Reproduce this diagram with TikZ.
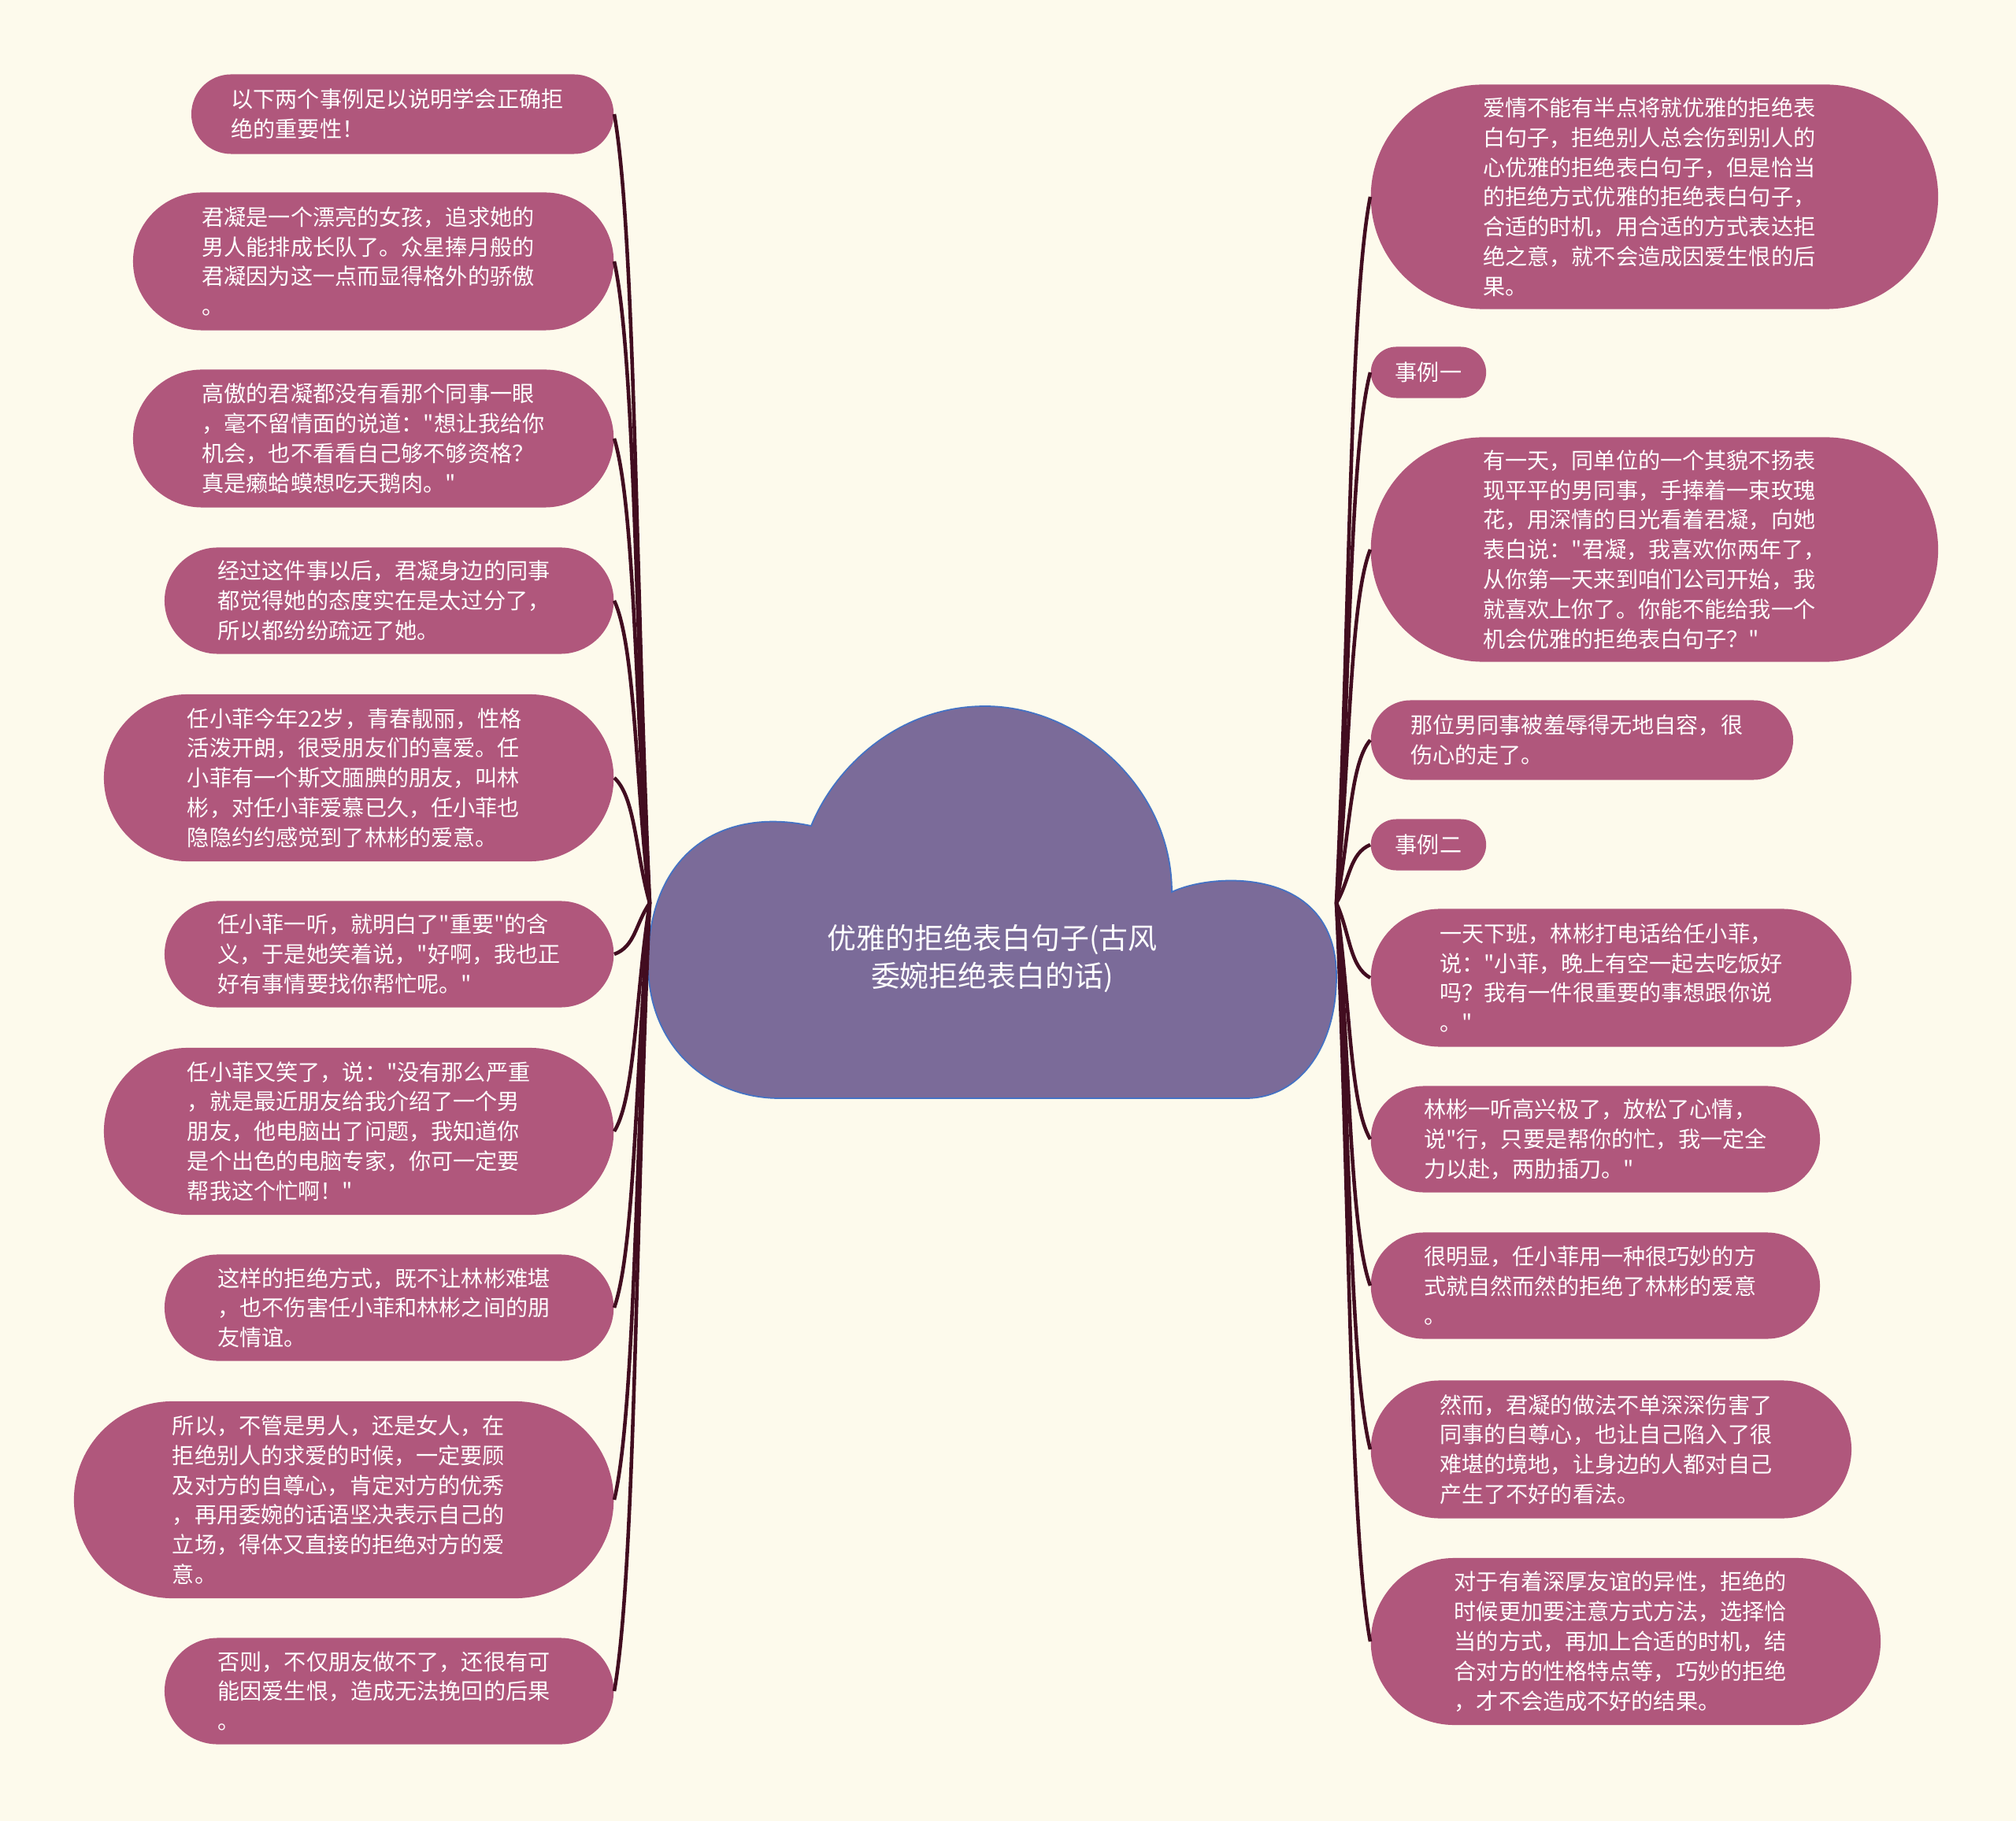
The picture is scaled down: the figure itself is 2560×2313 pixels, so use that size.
\documentclass[tikz,border=0pt]{standalone}
\usepackage{fontspec}
\newfontfamily\cjk{Noto Sans CJK SC}
\usetikzlibrary{calc}
\definecolor{bgcream}{RGB}{253,250,236}
\definecolor{leafpink}{RGB}{176,87,124}
\definecolor{cloudviolet}{RGB}{123,107,153}
\definecolor{cloudedge}{RGB}{68,114,196}
\definecolor{linkdark}{RGB}{66,13,32}

\begin{document}
\begin{tikzpicture}[
  x=0.01cm, y=-0.01cm,
  every node/.style={font=\cjk\fontsize{8pt}{10.75pt}\selectfont, text=white},
  leaf/.style={rectangle, fill=leafpink, minimum height=#1, rounded corners=#1/2, inner xsep=#1/2, inner ysep=0pt, text width=4.35cm, align=left},
  tag/.style={rectangle, fill=leafpink, minimum height=0.65cm, rounded corners=0.325cm, inner xsep=0.31cm, inner ysep=0pt},
  link/.style={draw=linkdark, line width=1.3pt}
]
  \useasboundingbox (0,0) rectangle (2560,2313);
  \fill[bgcream] (0,0) rectangle (2560,2313);

  % central cloud
  \filldraw[fill=cloudviolet, draw=cloudedge, line width=0.5pt]
    (990,1395) -- (1582,1395)
    .. controls (1650,1395) and (1697,1330) .. (1697,1240)
    .. controls (1697,1100) and (1540,1108) .. (1488,1133)
    .. controls (1488,1000) and (1370,897) .. (1251,897)
    .. controls (1140,897) and (1060,975) .. (1030,1049)
    .. controls (920,1025) and (823,1080) .. (823,1224)
    .. controls (823,1330) and (900,1395) .. (990,1395) -- cycle;
  \node[font=\cjk\fontsize{10.5pt}{13.7pt}\selectfont, align=center] (root) at (1260,1217)
    {优雅的拒绝表白句子(古风\\委婉拒绝表白的话)};
  \coordinate (hubL) at (825,1147);
  \coordinate (hubR) at (1697,1147);

  % left branch
  \node[leaf=1.01cm, anchor=east] (L1) at (780,145) {以下两个事例足以说明学会正确拒\\绝的重要性！};
  \node[leaf=1.75cm, anchor=east] (L2) at (780,332) {君凝是一个漂亮的女孩，追求她的\\男人能排成长队了。众星捧月般的\\君凝因为这一点而显得格外的骄傲\\。};
  \node[leaf=1.75cm, anchor=east] (L3) at (780,557) {高傲的君凝都没有看那个同事一眼\\，毫不留情面的说道："想让我给你\\机会，也不看看自己够不够资格？\\真是癞蛤蟆想吃天鹅肉。"};
  \node[leaf=1.35cm, anchor=east] (L4) at (780,763) {经过这件事以后，君凝身边的同事\\都觉得她的态度实在是太过分了，\\所以都纷纷疏远了她。};
  \node[leaf=2.12cm, anchor=east] (L5) at (780,988) {任小菲今年22岁，青春靓丽，性格\\活泼开朗，很受朋友们的喜爱。任\\小菲有一个斯文腼腆的朋友，叫林\\彬，对任小菲爱慕已久，任小菲也\\隐隐约约感觉到了林彬的爱意。};
  \node[leaf=1.35cm, anchor=east] (L6) at (780,1212) {任小菲一听，就明白了"重要"的含\\义，于是她笑着说，"好啊，我也正\\好有事情要找你帮忙呢。"};
  \node[leaf=2.12cm, anchor=east] (L7) at (780,1437) {任小菲又笑了，说："没有那么严重\\，就是最近朋友给我介绍了一个男\\朋友，他电脑出了问题，我知道你\\是个出色的电脑专家，你可一定要\\帮我这个忙啊！"};
  \node[leaf=1.35cm, anchor=east] (L8) at (780,1661) {这样的拒绝方式，既不让林彬难堪\\，也不伤害任小菲和林彬之间的朋\\友情谊。};
  \node[leaf=2.50cm, anchor=east] (L9) at (780,1905) {所以，不管是男人，还是女人，在\\拒绝别人的求爱的时候，一定要顾\\及对方的自尊心，肯定对方的优秀\\，再用委婉的话语坚决表示自己的\\立场，得体又直接的拒绝对方的爱\\意。};
  \node[leaf=1.35cm, anchor=east] (L10) at (780,2148) {否则，不仅朋友做不了，还很有可\\能因爱生恨，造成无法挽回的后果\\。};

  % right branch
  \node[leaf=2.85cm, anchor=west] (R1) at (1740,250) {爱情不能有半点将就优雅的拒绝表\\白句子，拒绝别人总会伤到别人的\\心优雅的拒绝表白句子，但是恰当\\的拒绝方式优雅的拒绝表白句子，\\合适的时机，用合适的方式表达拒\\绝之意，就不会造成因爱生恨的后\\果。};
  \node[tag, anchor=west] (R2) at (1740,473) {事例一};
  \node[leaf=2.85cm, anchor=west] (R3) at (1740,698) {有一天，同单位的一个其貌不扬表\\现平平的男同事，手捧着一束玫瑰\\花，用深情的目光看着君凝，向她\\表白说："君凝，我喜欢你两年了，\\从你第一天来到咱们公司开始，我\\就喜欢上你了。你能不能给我一个\\机会优雅的拒绝表白句子？"};
  \node[leaf=1.01cm, anchor=west] (R4) at (1740,940) {那位男同事被羞辱得无地自容，很\\伤心的走了。};
  \node[tag, anchor=west] (R5) at (1740,1073) {事例二};
  \node[leaf=1.75cm, anchor=west] (R6) at (1740,1242) {一天下班，林彬打电话给任小菲，\\说："小菲，晚上有空一起去吃饭好\\吗？我有一件很重要的事想跟你说\\。"};
  \node[leaf=1.35cm, anchor=west] (R7) at (1740,1447) {林彬一听高兴极了，放松了心情，\\说"行，只要是帮你的忙，我一定全\\力以赴，两肋插刀。"};
  \node[leaf=1.35cm, anchor=west] (R8) at (1740,1633) {很明显，任小菲用一种很巧妙的方\\式就自然而然的拒绝了林彬的爱意\\。};
  \node[leaf=1.75cm, anchor=west] (R9) at (1740,1841) {然而，君凝的做法不单深深伤害了\\同事的自尊心，也让自己陷入了很\\难堪的境地，让身边的人都对自己\\产生了不好的看法。};
  \node[leaf=2.12cm, anchor=west] (R10) at (1740,2085) {对于有着深厚友谊的异性，拒绝的\\时候更加要注意方式方法，选择恰\\当的方式，再加上合适的时机，结\\合对方的性格特点等，巧妙的拒绝\\，才不会造成不好的结果。};

  % connectors
  \foreach \i in {1,...,10}
    \draw[link] (hubL) .. controls ($(hubL)!0.4!(L\i.east)$) and ($(L\i.east)!0.15!(hubL)+(20,0)$) .. (L\i.east);
  \foreach \i in {1,...,10}
    \draw[link] (hubR) .. controls ($(hubR)!0.4!(R\i.west)$) and ($(R\i.west)!0.15!(hubR)+(-20,0)$) .. (R\i.west);
\end{tikzpicture}
\end{document}
